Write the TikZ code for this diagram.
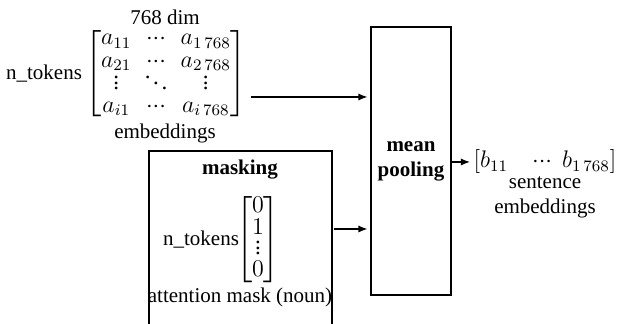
\documentclass[tikz,border=0pt]{standalone}
\usepackage{amsmath}
\usepackage{fontspec}
\setmainfont{Liberation Serif}
\usetikzlibrary{positioning,arrows.meta}

% compact dots for the small matrices
\newcommand{\vdotsm}{\vbox{\baselineskip2.8pt\lineskiplimit0pt\hbox{.}\hbox{.}\hbox{.}}}
\newcommand{\ddotsm}{\mathinner{\mkern1mu\raise5.6pt\hbox{.}\mkern2mu\raise2.8pt\hbox{.}\mkern2mu\raise0pt\hbox{.}\mkern1mu}}
\newcommand{\cdotsm}{\mathinner{{\cdot}{\cdot}{\cdot}}}

\begin{document}
\begin{tikzpicture}[x=0.5pt,y=-0.5pt,>={Latex[length=4.5pt,width=3.5pt]},line width=0.6pt,
  font=\fontsize{10.5}{12.5}\selectfont,
  labelsty/.style={anchor=center,inner sep=1pt},
  mathsty/.style={anchor=center,inner sep=0pt,font=\fontsize{11.5}{13}\selectfont},
  boldsty/.style={anchor=center,font=\fontsize{10.5}{12.5}\selectfont\bfseries},
  poolbox/.style={draw,minimum width=38pt,minimum height=134pt,align=center,
    font=\fontsize{10.5}{12.5}\selectfont\bfseries},
  arr/.style={->,shorten >=1.5pt}]
  \useasboundingbox (0,0) rectangle (618,324);

  % token embeddings
  \node[labelsty] (dim) at (165,17) {768 dim};
  \node[mathsty] (emb) at (166,74) {\renewcommand{\arraystretch}{0.86}\setlength{\arraycolsep}{3pt}%
    $\begin{bmatrix}
      a_{11} & \cdotsm & a_{1\,768}\\
      a_{21} & \cdotsm & a_{2\,768}\\
      \vdotsm & \ddotsm & \vdotsm\\
      a_{i1} & \cdotsm & a_{i\,768}
    \end{bmatrix}$};
  \node[labelsty,left=0pt of emb] (ntok) {n\_tokens};
  \node[labelsty] (embtxt) at (165,133) {embeddings};

  % masking block (runs off the bottom)
  \draw (149,324) |- (332,151) -- (332,324);
  \coordinate (mask) at (334,229);
  \node[boldsty] (masktxt) at (240,170) {masking};
  \node[mathsty] (vec) at (258,240) {\renewcommand{\arraystretch}{0.78}%
    $\begin{bmatrix}0\\1\\\vdotsm\\0\end{bmatrix}$};
  \node[labelsty,left=-3pt of vec] (ntok2) {n\_tokens};
  \node[labelsty] (atttxt) at (240,297) {attention mask (noun)};

  % pooling
  \node[poolbox] (pool) at (411,161) {mean\\pooling};

  % sentence embeddings
  \node[mathsty,anchor=west] (out) at (473,162) {$[b_{11}\hspace{10pt}\cdotsm\hspace{3pt}b_{1\,768}]$};
  \node[labelsty,align=center] (outtxt) at (545,197) {sentence\\embeddings};

  \draw[arr] (emb.east |- 0,97) ++(4,0) -- (pool.west |- 0,97);
  \draw[arr] (mask) -- (pool.west |- mask);
  \draw[arr] (pool.east |- out) -- (out.west);
\end{tikzpicture}
\end{document}
